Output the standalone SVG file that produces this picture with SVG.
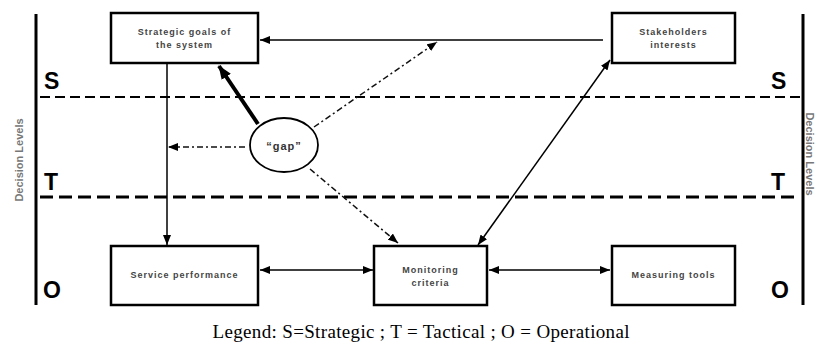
<svg xmlns="http://www.w3.org/2000/svg" width="816" height="343" viewBox="0 0 816 343">
<style>
.box{fill:#fff;stroke:#000;stroke-width:2.5}
.bt{font-family:"Liberation Sans",Arial,sans-serif;font-weight:bold;font-size:9px;fill:#444;text-anchor:middle;letter-spacing:1px}
.lvl{font-family:"Liberation Sans",Arial,sans-serif;font-weight:bold;font-size:23px;fill:#000}
.side{font-family:"Liberation Sans",Arial,sans-serif;font-weight:bold;font-size:11px;fill:#777;text-anchor:middle}
.conn{fill:none;stroke:#000;stroke-width:1.5}
.dd{fill:none;stroke:#111;stroke-width:1.5;stroke-dasharray:6 3 2 3}
</style>
<defs>
<marker id="ah" viewBox="0 0 10 8" refX="10" refY="4" markerWidth="10" markerHeight="8" markerUnits="userSpaceOnUse" orient="auto-start-reverse"><path d="M0,0 L10,4 L0,8 z" fill="#000"/></marker>
<marker id="ahb" viewBox="0 0 14 11" refX="13" refY="5.5" markerWidth="14" markerHeight="11" markerUnits="userSpaceOnUse" orient="auto"><path d="M0,0 L14,5.5 L0,11 z" fill="#000"/></marker>
</defs>
<rect width="816" height="343" fill="#fff"/>
<g id="frame">
<line x1="36" y1="14" x2="36" y2="305" stroke="#000" stroke-width="3"/>
<line x1="803" y1="14" x2="803" y2="305" stroke="#000" stroke-width="3"/>
<line x1="40" y1="97" x2="800" y2="97" stroke="#000" stroke-width="1.8" stroke-dasharray="10 5"/>
<line x1="40" y1="197" x2="800" y2="197" stroke="#000" stroke-width="3" stroke-dasharray="13 6"/>
<text class="lvl" x="44" y="89">S</text>
<text class="lvl" x="771" y="89">S</text>
<text class="lvl" x="44" y="190">T</text>
<text class="lvl" x="771" y="190">T</text>
<text class="lvl" x="43" y="298">O</text>
<text class="lvl" x="771" y="298">O</text>
<text class="side" transform="translate(23,160) rotate(-90)">Decision Levels</text>
<text class="side" transform="translate(806,154) rotate(90)">Decision Levels</text>
</g>
<g id="connectors">
<line class="conn" x1="603" y1="40" x2="260" y2="40" marker-end="url(#ah)"/>
<line class="conn" x1="167" y1="63" x2="167" y2="245" marker-end="url(#ah)"/>
<line x1="258" y1="124" x2="219" y2="66" stroke="#000" stroke-width="4" marker-end="url(#ahb)"/>
<line class="dd" x1="314" y1="127" x2="437" y2="42" marker-end="url(#ah)"/>
<line class="dd" x1="245" y1="147" x2="168" y2="147" marker-end="url(#ah)"/>
<line class="dd" x1="310" y1="169" x2="398" y2="243" marker-end="url(#ah)"/>
<line class="conn" x1="478" y1="245" x2="610" y2="60" marker-start="url(#ah)" marker-end="url(#ah)"/>
<line class="conn" x1="260" y1="270" x2="373" y2="270" marker-start="url(#ah)" marker-end="url(#ah)"/>
<line class="conn" x1="489" y1="270" x2="610" y2="270" marker-start="url(#ah)" marker-end="url(#ah)"/>
</g>
<g id="strategic-goals">
<rect class="box" x="111" y="13" width="147" height="50"/>
<text class="bt" x="184.5" y="35">Strategic goals of</text>
<text class="bt" x="184.5" y="48">the system</text>
</g>
<g id="stakeholders">
<rect class="box" x="612" y="13" width="123" height="50"/>
<text class="bt" x="673.5" y="35">Stakeholders</text>
<text class="bt" x="673.5" y="48">interests</text>
</g>
<g id="gap">
<ellipse cx="284" cy="145" rx="34" ry="27" fill="#fff" stroke="#000" stroke-width="1.8"/>
<text class="bt" x="284" y="150" style="font-size:11px;fill:#333">“gap”</text>
</g>
<g id="service-performance">
<rect class="box" x="111" y="246" width="147" height="59"/>
<text class="bt" x="184.5" y="278">Service performance</text>
</g>
<g id="monitoring-criteria">
<rect class="box" x="374" y="246" width="113" height="59"/>
<text class="bt" x="430.5" y="273">Monitoring</text>
<text class="bt" x="430.5" y="286">criteria</text>
</g>
<g id="measuring-tools">
<rect class="box" x="612" y="246" width="123" height="59"/>
<text class="bt" x="673.5" y="278">Measuring tools</text>
</g>
<text x="421" y="338" font-family="'Liberation Serif','Times New Roman',serif" font-size="19" text-anchor="middle" textLength="417" fill="#000">Legend: S=Strategic ; T = Tactical ; O = Operational</text>
</svg>
